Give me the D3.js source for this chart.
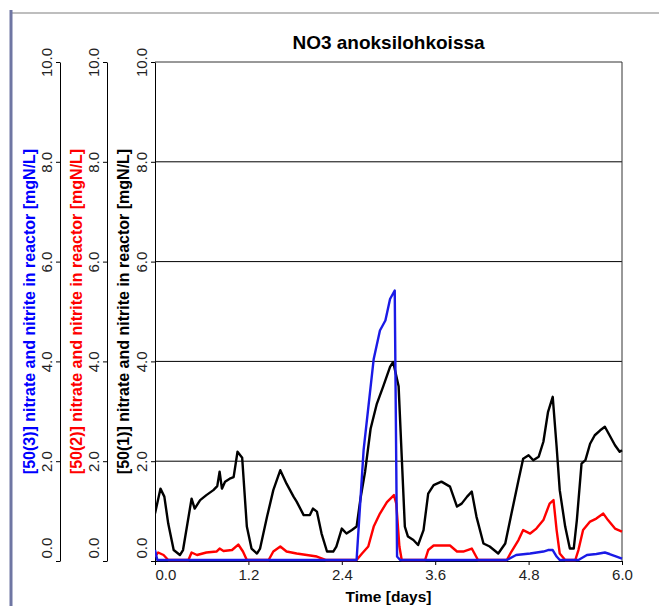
<!DOCTYPE html>
<html>
<head>
<meta charset="utf-8">
<script src="https://cdn.jsdelivr.net/npm/d3@7"></script>
<style>
  body { margin: 0; background: #fff; }
  svg text { font-family: "Liberation Sans", Arial, sans-serif; }
</style>
</head>
<body>
<div id="chart"></div>
<script>
// values, time in days, concentrations in mgN/L
const blackDays = [0, 0.07, 0.12, 0.17, 0.24, 0.32, 0.36, 0.47, 0.51, 0.58, 0.66, 0.75, 0.80, 0.83, 0.86, 0.90, 0.96, 1.01, 1.06, 1.12, 1.18, 1.24, 1.31, 1.35, 1.44, 1.52, 1.61, 1.69, 1.78, 1.82, 1.91, 1.99, 2.03, 2.08, 2.14, 2.21, 2.29, 2.33, 2.40, 2.46, 2.53, 2.59, 2.64, 2.70, 2.77, 2.85, 2.93, 3.02, 3.06, 3.13, 3.17, 3.21, 3.25, 3.32, 3.38, 3.45, 3.51, 3.58, 3.68, 3.79, 3.88, 3.94, 4.01, 4.07, 4.13, 4.22, 4.30, 4.41, 4.50, 4.58, 4.67, 4.73, 4.80, 4.86, 4.93, 4.99, 5.05, 5.11, 5.16, 5.20, 5.27, 5.33, 5.38, 5.42, 5.48, 5.53, 5.59, 5.65, 5.72, 5.78, 5.84, 5.91, 5.97, 6.00];
const blackValues = [0.95, 1.45, 1.29, 0.75, 0.22, 0.12, 0.22, 1.25, 1.05, 1.22, 1.32, 1.42, 1.50, 1.79, 1.45, 1.59, 1.65, 1.68, 2.19, 2.07, 0.69, 0.25, 0.15, 0.25, 0.89, 1.42, 1.82, 1.55, 1.29, 1.19, 0.92, 0.92, 1.05, 0.99, 0.55, 0.19, 0.19, 0.29, 0.65, 0.55, 0.62, 0.69, 1.25, 1.80, 2.65, 3.15, 3.49, 3.89, 3.99, 3.50, 2.09, 0.69, 0.49, 0.42, 0.32, 0.62, 1.35, 1.52, 1.59, 1.49, 1.09, 1.15, 1.29, 1.39, 0.89, 0.35, 0.29, 0.15, 0.35, 0.95, 1.62, 2.05, 2.12, 2.02, 2.09, 2.39, 2.99, 3.29, 2.29, 1.42, 0.69, 0.25, 0.25, 0.82, 1.95, 2.02, 2.35, 2.52, 2.62, 2.69, 2.52, 2.32, 2.19, 2.22];

const redDays = [0, 0.04, 0.11, 0.17, 0.43, 0.47, 0.54, 0.66, 0.79, 0.83, 0.88, 0.99, 1.07, 1.13, 1.18, 1.46, 1.52, 1.61, 1.69, 1.82, 1.95, 2.08, 2.20, 2.59, 2.66, 2.74, 2.81, 2.89, 2.98, 3.07, 3.10, 3.14, 3.17, 3.47, 3.51, 3.58, 3.79, 3.88, 3.96, 4.07, 4.15, 4.52, 4.58, 4.67, 4.73, 4.82, 4.90, 4.99, 5.07, 5.12, 5.16, 5.20, 5.27, 5.40, 5.44, 5.50, 5.59, 5.67, 5.76, 5.82, 5.91, 6.00];
const redValues = [0.09, 0.17, 0.12, 0.02, 0.02, 0.17, 0.12, 0.17, 0.19, 0.25, 0.20, 0.22, 0.33, 0.19, 0.02, 0.02, 0.19, 0.29, 0.19, 0.15, 0.12, 0.09, 0.02, 0.02, 0.15, 0.29, 0.69, 0.95, 1.18, 1.32, 1.15, 0.29, 0.02, 0.02, 0.22, 0.31, 0.31, 0.19, 0.19, 0.25, 0.02, 0.02, 0.19, 0.42, 0.62, 0.55, 0.65, 0.82, 1.15, 1.22, 0.62, 0.15, 0.02, 0.02, 0.22, 0.62, 0.79, 0.85, 0.95, 0.82, 0.65, 0.59];

const blueDays = [0, 0.03, 2.59, 2.68, 2.81, 2.89, 2.96, 3.02, 3.08, 3.11, 3.15, 4.52, 4.64, 4.82, 4.99, 5.05, 5.11, 5.16, 5.20, 5.44, 5.55, 5.67, 5.78, 5.84, 5.93, 6.00];
const blueValues = [0.22, 0.02, 0.02, 2.22, 4.05, 4.62, 4.82, 5.25, 5.42, 0.09, 0.02, 0.02, 0.12, 0.15, 0.19, 0.22, 0.22, 0.09, 0.02, 0.02, 0.12, 0.14, 0.17, 0.14, 0.09, 0.05];

const xTicks = [0, 1.2, 2.4, 3.6, 4.8, 6.0];
const yTicks = [0, 2, 4, 6, 8, 10];
const gridValues = [2, 4, 6, 8];
const seriesNames = ["[50(1)] nitrate and nitrite in reactor [mgN/L]",
                     "[50(2)] nitrate and nitrite in reactor [mgN/L]",
                     "[50(3)] nitrate and nitrite in reactor [mgN/L]"];
const seriesColors = ["#000000", "#ff0000", "#1a1ae6"];

const width = 659, height = 606;
const plotLeft = 155, plotRight = 622, plotTop = 62, plotBottom = 561;

const svg = d3.select("#chart").append("svg")
  .attr("width", width)
  .attr("height", height);

svg.append("rect").attr("width", width).attr("height", height).attr("fill", "#fff");

// window frame
svg.append("line").attr("x1", 10).attr("x2", width).attr("y1", 13).attr("y2", 13)
  .attr("stroke", "#a8a8a8").attr("stroke-width", 1.5);
svg.append("line").attr("x1", 11).attr("x2", 11).attr("y1", 10).attr("y2", height)
  .attr("stroke", "#6f76a3").attr("stroke-width", 3);

const x = d3.scaleLinear().domain([0, 6]).range([plotLeft, plotRight]);
const y = d3.scaleLinear().domain([0, 10]).range([plotBottom, plotTop]);

// grid + frame of plot
svg.selectAll(".grid").data(gridValues).enter().append("line")
  .attr("x1", plotLeft).attr("x2", plotRight)
  .attr("y1", d => y(d)).attr("y2", d => y(d))
  .attr("stroke", "#000").attr("stroke-width", 1);
svg.append("line").attr("x1", plotLeft).attr("x2", plotRight).attr("y1", y(10)).attr("y2", y(10))
  .attr("stroke", "#333").attr("stroke-width", 1);
svg.append("line").attr("x1", plotRight).attr("x2", plotRight).attr("y1", y(10)).attr("y2", y(0))
  .attr("stroke", "#333").attr("stroke-width", 1);

// three stacked y axes (blue, red, black)
const axisX = [plotLeft, 107, 60];
const labelX = [123, 76, 29];
[2, 1, 0].forEach(i => {
  const g = svg.append("g")
    .attr("transform", "translate(" + axisX[i] + ",0)")
    .call(d3.axisLeft(y).tickValues(yTicks).tickSize(4).tickSizeOuter(0).tickFormat(d3.format(".1f")));
  g.select(".domain").attr("stroke", "#000");
  g.selectAll(".tick line").attr("stroke", "#000");
  g.selectAll(".tick text")
    .attr("transform", "rotate(-90)")
    .attr("x", d => d == 0 ? 3 : 0)
    .attr("y", -13)
    .attr("dy", "0.35em")
    .attr("text-anchor", d => d == 0 ? "start" : "middle")
    .attr("fill", "#222")
    .style("font-size", "15px");

  svg.append("text")
    .attr("transform", "translate(" + labelX[i] + "," + ((plotTop + plotBottom) / 2) + ") rotate(-90)")
    .attr("text-anchor", "middle")
    .attr("dy", "0.35em")
    .attr("fill", i == 2 ? "#0000ff" : seriesColors[i])
    .style("font-size", "16px")
    .style("font-weight", "bold")
    .text(seriesNames[i]);
});

// x axis
const gx = svg.append("g")
  .attr("transform", "translate(0," + plotBottom + ")")
  .call(d3.axisBottom(x).tickValues(xTicks).tickSize(4).tickSizeOuter(0).tickFormat(d3.format(".1f")));
gx.select(".domain").attr("stroke", "#000");
gx.selectAll(".tick text")
  .attr("y", 8)
  .attr("text-anchor", d => d == 0 ? "start" : "middle")
  .attr("fill", "#222")
  .style("font-size", "15px");

svg.append("text")
  .attr("x", (plotLeft + plotRight) / 2).attr("y", 602)
  .attr("text-anchor", "middle")
  .style("font-size", "15.5px").style("font-weight", "bold")
  .text("Time [days]");

svg.append("text")
  .attr("x", (plotLeft + plotRight) / 2).attr("y", 49)
  .attr("text-anchor", "middle")
  .style("font-size", "19px").style("font-weight", "bold")
  .text("NO3 anoksilohkoissa");

// lines
svg.append("clipPath").attr("id", "plotclip").append("rect")
  .attr("x", plotLeft).attr("y", plotTop - 2).attr("width", plotRight - plotLeft + 1).attr("height", plotBottom - plotTop + 3);

const line = d3.line().x(d => x(d[0])).y(d => y(d[1]));
const series = [
  d3.zip(blackDays, blackValues),
  d3.zip(redDays, redValues),
  d3.zip(blueDays, blueValues)
];

svg.append("g").attr("clip-path", "url(#plotclip)")
  .selectAll("path").data(series).enter().append("path")
  .attr("d", line)
  .attr("fill", "none")
  .attr("stroke", (d, i) => seriesColors[i])
  .attr("stroke-width", 2.4)
  .attr("stroke-linejoin", "round");
</script>
</body>
</html>
